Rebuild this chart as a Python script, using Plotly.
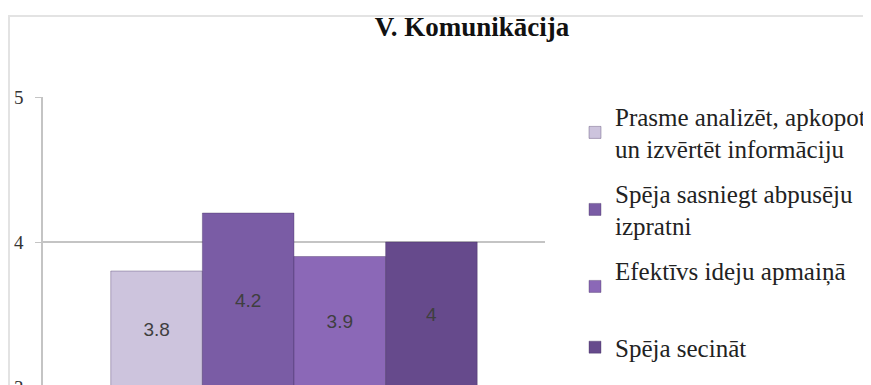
import plotly.graph_objects as go

# Chart data
series_names = [
    "Prasme analizēt, apkopot<br>un izvērtēt informāciju",
    "Spēja sasniegt abpusēju<br>izpratni",
    "Efektīvs ideju apmaiņā<br> ",
    "Spēja secināt",
]
series_values = [3.8, 4.2, 3.9, 4]
series_colors = ["#cdc4dd", "#7a5ca5", "#8b68b7", "#664a8c"]
category = [""]
axis_base = 3
tick_values = [3, 4, 5]

SERIF = "Liberation Serif, Times New Roman, serif"

fig = go.Figure()

for i, (name, val, col) in enumerate(zip(series_names, series_values, series_colors)):
    fig.add_trace(
        go.Bar(
            x=category,
            y=[val - axis_base],
            base=axis_base,
            name=name,
            text=[f"{val:g}"],
            textposition="inside",
            insidetextanchor="middle",
            textfont=dict(family="Liberation Sans, Arial, sans-serif", size=19, color="#3f3f3f"),
            marker=dict(color=col, line=dict(color="rgba(60,40,90,0.35)", width=1)),
            legendgroup=f"g{i}",
            hoverinfo="skip",
        )
    )

# page body adds an 8px offset, so the figure sits at (8, 8) in the window
fig.update_layout(
    width=871,
    height=385,
    margin=dict(l=35, r=334, t=89, b=6, autoexpand=False),
    paper_bgcolor="white",
    plot_bgcolor="white",
    barmode="group",
    bargap=0.27,
    bargroupgap=0,
    title=dict(
        text="<b>V. Komunikācija</b>",
        x=464 / 871,
        xanchor="center",
        y=1 - 19 / 385,
        yanchor="middle",
        font=dict(family=SERIF, size=27, color="#111111"),
    ),
    xaxis=dict(
        showticklabels=False,
        showgrid=False,
        zeroline=False,
        showline=False,
    ),
    yaxis=dict(
        range=[3, 5],
        tickvals=tick_values,
        showgrid=True,
        gridcolor="#c4c4c4",
        gridwidth=1.5,
        zeroline=False,
        showline=True,
        linecolor="#c4c4c4",
        linewidth=1.5,
        ticks="outside",
        ticklen=6,
        tickcolor="#c4c4c4",
        ticklabelstandoff=8,
        ticklabeloverflow="allow",
        tickfont=dict(family=SERIF, size=19, color="#333333"),
    ),
    legend=dict(
        x=(567 - 35) / 502,
        xanchor="left",
        y=1.0124,
        yanchor="top",
        maxheight=500,
        tracegroupgap=9,
        font=dict(family=SERIF, size=25, color="#222222"),
        bgcolor="rgba(0,0,0,0)",
    ),
    showlegend=True,
)

# Outer chart border
fig.add_shape(
    type="rect",
    xref="paper",
    yref="paper",
    x0=-34 / 502,
    x1=(861 - 35) / 502,
    y0=-0.1,
    y1=1 + 81 / 290,
    line=dict(color="#e3e3e3", width=2),
    fillcolor="rgba(0,0,0,0)",
    layer="below",
)

fig.write_html("out.html")
